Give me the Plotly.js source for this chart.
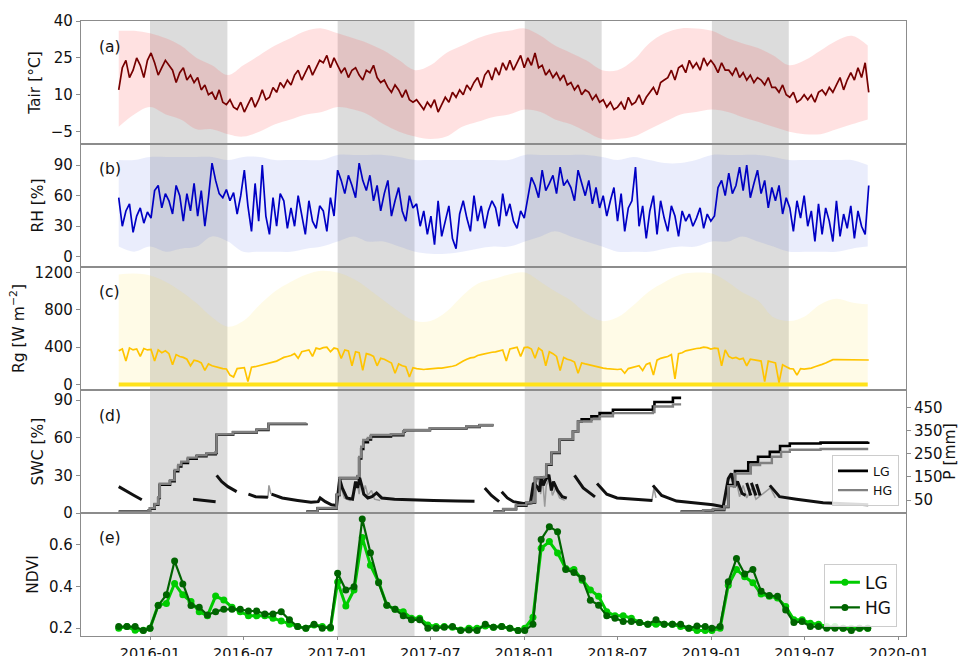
<!DOCTYPE html>
<html><head><meta charset="utf-8">
<script src="https://cdn.plot.ly/plotly-3.0.1.min.js"></script>
<style>html,body{margin:0;padding:0;background:#fff}#chart{width:959px;height:656px}</style>
</head><body><div id="chart"></div>
<script>
// ---------- DATA ----------
const weekStart = '2015-11-01';   // weekly series, 7-day step
const tairWeekly = [
 12,21,24,17,20, 25,22,17,24,
 27,23,18,21,24, 22,20,15,19, 21,16,18,15, 17,12,14,10, 11,8,12,7,6, 8,5,4,7,
 3,6,9,5,8, 12,8,9,13, 11,15,13,16, 14,18,20,16,19, 22,18,21,24, 23,26,21,25,
 22,19,21,17,20, 21,18,16,20, 19,22,17,15, 16,13,11,14,12, 9,12,8,7, 8,6,4,7,
 5,8,3,6,9, 7,11,9,12, 10,14,12,15, 17,13,18,20,16, 21,18,23,20, 24,20,23,26,21,
 25,22,27,21, 22,18,20,17, 19,16,18,14, 15,12,14,10,12, 11,8,10,7, 8,5,7,4,
 5,7,4,9,6, 7,10,6,9, 11,13,10,15,16, 17,20,16,21, 22,19,24,21, 23,20,25,22,24,
 22,19,23,20, 20,18,21,17, 19,16,18,15,17, 16,14,17,13, 13,11,14,10, 9,11,7,8,10,
 8,10,7,11, 12,10,13,11, 14,17,12,16,19, 16,21,17,23, 11];
const rhWeekly = [
 58,30,45,52,24, 40,48,33,44,
 38,65,70,48,62, 55,42,70,60, 35,62,45,72, 40,65,30,58, 92,75,62,58,66, 55,63,42,60,
 85,50,25,72,35, 90,40,22,58, 30,62,55,28, 48,30,60,42,22, 55,35,28,50, 45,25,58,40,
 85,75,62,80,70, 58,92,75,65, 80,55,70,45, 62,75,40,55,68, 45,35,60,48, 52,30,45,22,
 40,12,55,20,35, 50,18,8,42, 55,38,25,60, 35,50,28,45,55, 48,30,62,40, 52,35,28,45,38,
 60,78,70,58, 85,65,72,80, 62,88,70,75, 68,55,85,72,60, 75,52,68,48, 60,40,55,68,
 35,62,25,48,55, 88,30,50,18, 45,60,22,55,38, 25,50,40,20, 45,35,42,30, 38,48,28,42,35,
 40,68,75,60, 82,62,70,88, 65,90,58,72,85, 62,75,48,68, 55,70,42,58, 48,25,55,38,60,
 30,45,15,52, 22,48,35,15, 55,20,42,28,50, 18,45,30,22, 70];
const rgWeekly = [
 360,380,250,390,370, 380,300,385,370,
 375,250,370,340,360, 330,210,320,300, 290,270,200,260, 250,230,150,220, 200,190,175,170,165, 100,80,170,175,
 180,30,185,190,200, 205,215,230,240, 250,270,290,300, 310,330,280,350,360, 370,300,390,380, 395,400,350,390,
 380,280,370,360,200, 350,340,150,330, 320,300,200,280, 270,250,230,120,220, 200,190,80,180, 170,165,160,165,
 170,170,175,175,180, 185,195,205,230, 250,270,285,290, 310,320,330,340,345, 350,360,370,250, 380,390,400,300,395,
 400,380,280,390, 360,200,350,330, 300,150,290,270, 260,240,120,230,220, 210,200,190,180, 175,170,165,160,
 160,165,120,170,180, 190,200,150,215, 230,100,260,280,290, 300,320,60,330, 340,360,370,380, 385,390,400,395,380,
 390,385,200,370, 300,280,290,270, 280,200,270,265,260, 250,30,250,240, 230,20,210,190, 170,165,100,170,165,
 170,175,190,200, 215,230,250,265, 265,265,262,262,262, 262,262,262,262, 262];
const rgNightDates = ['2015-11-01','2019-11-01'];
const rgNight = [0, 0];

const monthStart = '2015-11-01';  // monthly envelopes of the hourly records
const tairMax = [36,36, 35,33,30,25,22,18,22,26,30,33,36,37, 35,33,31,28,24,20,22,27,30,33,35,36,
 37,34,30,27,24,20,20,24,31,35,37,37, 36,33,31,29,26,22,24,28,32,34,30];
const tairMin = [-3,2, 5,2,0,-4,-4,-6,-7,-5,-2,0,2,3, 5,4,2,-2,-5,-7,-8,-7,-3,-1,1,2,
 4,3,0,-2,-5,-8,-8,-7,-4,-1,2,3, 4,3,1,-1,-3,-5,-6,-6,-4,-2,0];
const rhMax = [95,95, 98,98,98,98,98,95,98,98,95,95,95,95, 100,100,100,100,98,95,95,95,95,95,95,95,
 100,100,100,100,100,98,95,98,95,92,92,95, 100,100,100,100,98,95,95,95,95,95,90];
const rhMin = [10,5, 10,5,8,10,20,15,5,5,5,5,8,10, 15,20,15,15,10,5,3,3,5,8,10,10,
 15,20,25,20,15,10,5,5,5,8,10,10, 15,15,20,15,10,5,5,5,5,8,10];
const rgMax = [1180,1190, 1170,1100,1000,870,720,620,680,850,1000,1100,1180,1220,
 1200,1130,1030,900,780,680,680,780,950,1080,1130,1180,
 1200,1100,1000,900,760,680,720,850,1000,1100,1180,1200,
 1190,1100,990,900,720,680,730,860,920,880,860];

// Soil water content (%), gaps as null
const swcLGDates = ['2015-11-01','2015-11-15','2015-12-01','2015-12-16',null,
 '2016-03-25','2016-04-15','2016-05-08',null,
 '2016-05-10','2016-05-20','2016-06-01','2016-06-18',null,
 '2016-07-11','2016-07-25','2016-08-18',null,
 '2016-08-25','2016-09-15','2016-10-15','2016-11-10','2016-11-24','2016-11-28','2016-12-08','2016-12-20','2016-12-30',
 '2017-01-02','2017-01-05','2017-01-10','2017-01-19','2017-01-30','2017-02-05','2017-02-09','2017-02-13','2017-02-17','2017-02-21',
 '2017-03-01','2017-03-09','2017-03-18','2017-03-28','2017-04-22','2017-05-20','2017-07-07','2017-08-22','2017-09-25',null,
 '2017-10-15','2017-10-28','2017-11-12',null,
 '2017-11-17','2017-11-28','2017-12-10','2017-12-29','2018-01-12',
 '2018-01-18','2018-01-25','2018-01-30','2018-02-02','2018-02-06','2018-02-10','2018-02-17','2018-02-22','2018-02-26','2018-03-06','2018-03-15','2018-03-24',null,
 '2018-04-08','2018-04-25','2018-05-18',null,
 '2018-05-22','2018-06-10','2018-06-30','2018-09-07',null,
 '2018-09-08','2018-09-25','2018-10-24','2019-01-03','2019-01-23',
 '2019-01-30','2019-02-02','2019-02-08','2019-02-14','2019-02-20','2019-03-01','2019-03-08',null,
 '2019-03-10','2019-03-18',null,'2019-03-19','2019-03-28',null,'2019-03-29','2019-04-05',null,
 '2019-04-24','2019-05-13','2019-06-15','2019-08-06','2019-11-02'];
const swcLG = [21,18,14,10.5,null,
 11,10,9,null,
 30,25,21,17,null,
 15,13,12.5,null,
 15,12,10,8.5,9,12,9,6.5,6,
 18,27,20,12,11,25,20,28,22,15,
 12,13,16,12,11,10.5,10,9.6,9.3,null,
 20,14,9,null,
 17,12,9,7.5,8,
 24,21,17,29,22,26,30.5,18,25,18,13,11.8,null,
 30,20,12.8,null,
 23.5,15,12,10,null,
 22,14,9.5,6.5,5,
 20,27.5,31.5,21,25,15.5,14,null,
 24,14,null,24,14,null,23,14,null,
 22,13,11,8.2,6.5];
const swcHGDates = ['2016-08-18','2016-08-20','2016-08-24',null,
 '2016-12-30','2017-01-04','2017-01-08','2017-01-14','2017-01-25','2017-02-03','2017-02-08','2017-02-12','2017-02-15','2017-02-20','2017-02-24','2017-03-01','2017-03-08','2017-03-14','2017-03-25',null,
 '2018-01-15','2018-01-20','2018-01-27','2018-02-01','2018-02-05','2018-02-09','2018-02-12','2018-02-18','2018-02-24','2018-03-02','2018-03-10','2018-03-20',null,
 '2018-09-06','2018-09-10','2018-09-14',null,
 '2019-01-28','2019-02-02','2019-02-06','2019-02-12','2019-02-18','2019-02-24','2019-03-03','2019-03-10','2019-03-20','2019-03-28','2019-04-25','2019-05-05'];
const swcHG = [12,22,15,null,
 8,26,20,12,10,18,24,15,25,16,22,14,18,11,10,null,
 8,20,28,15,26,5,22,28,14,20,12,10,null,
 10,20,12,null,
 10,26,30,20,25,13,22,12,20,11,20,12];

// Cumulative precipitation (mm), per hydrological season
const pLGDates = ['2015-11-01','2015-12-29','2016-01-01','2016-01-10','2016-01-17','2016-01-20','2016-02-09','2016-02-18','2016-02-25','2016-03-02','2016-03-15','2016-04-01','2016-04-20','2016-05-08','2016-05-10','2016-06-11','2016-07-27','2016-08-19','2016-11-01',null,
 '2016-11-01','2016-11-23','2016-12-30','2017-01-05','2017-02-09','2017-02-12','2017-02-16','2017-02-20','2017-03-01','2017-03-07','2017-04-15','2017-05-09','2017-05-12','2017-06-30','2017-09-09','2017-10-05','2017-11-01',null,
 '2017-11-01','2017-11-20','2017-12-15','2018-01-04','2018-01-14','2018-01-21','2018-02-08','2018-02-12','2018-02-22','2018-03-10','2018-04-05','2018-04-15','2018-04-22','2018-05-11','2018-05-27','2018-06-22','2018-09-08','2018-09-11','2018-10-17','2018-11-02',null,
 '2018-11-01','2018-12-15','2019-01-03','2019-01-25','2019-02-02','2019-02-15','2019-03-13','2019-04-01','2019-04-24','2019-05-14','2019-06-02','2019-08-01','2019-11-02'];
const pLG = [0,3,13,30,59,116,131,174,195,210,228,239,248,253,332,342,353,378,380,null,
 0,14,72,144,151,230,270,300,312,325,330,345,351,359,366,373,373,null,
 0,10,25,37,40,145,148,202,253,310,346,389,398,411,425,440,454,473,491,491,null,
 0,3,7,20,115,175,213,237,258,283,294,298,302];
const pHGDates = ['2015-11-01','2015-12-29','2016-01-01','2016-01-10','2016-01-17','2016-01-20','2016-02-09','2016-02-18','2016-02-25','2016-03-02','2016-03-15','2016-04-01','2016-04-20','2016-05-08','2016-05-10','2016-06-11','2016-07-27','2016-08-19','2016-11-01',null,
 '2016-11-01','2016-11-23','2016-12-30','2017-01-05','2017-02-09','2017-02-12','2017-02-16','2017-02-20','2017-03-01','2017-03-07','2017-04-15','2017-05-09','2017-05-12','2017-06-30','2017-09-09','2017-10-05','2017-11-01',null,
 '2017-11-01','2017-11-20','2017-12-15','2018-01-04','2018-01-14','2018-01-21','2018-02-08','2018-02-12','2018-02-22','2018-03-10','2018-04-05','2018-04-15','2018-05-03','2018-05-11','2018-05-27','2018-06-22','2018-09-08','2018-09-11','2018-10-17','2018-11-02',null,
 '2018-11-01','2018-12-15','2019-01-03','2019-01-25','2019-02-02','2019-02-15','2019-03-18','2019-04-05','2019-04-28','2019-05-16','2019-06-02','2019-08-01','2019-11-02'];
const pHG = [0,4,15,33,62,120,136,180,201,216,233,243,252,256,334,344,355,380,381,null,
 0,16,74,146,154,236,280,309,318,331,334,347,352,360,367,374,374,null,
 0,12,28,39,42,147,150,205,256,312,346,389,389,400,411,425,430,454,463,463,null,
 0,5,10,22,110,164,201,210,237,258,267,270,270];

// NDVI, MODIS 16-day composites (Nov 2015 .. Nov 2019)
const ndviLG = [0.20,0.208,0.19,0.19,
 0.20,0.31,0.318,0.413,0.359,0.327,0.279,0.259,0.353,0.334,0.30,0.279,0.259,0.259,0.259,0.248,0.235,0.219,0.208,0.20,0.216,0.208,0.20,
 0.42,0.306,0.382,0.632,0.50,0.42,0.31,0.29,0.279,0.248,0.248,0.216,0.208,0.208,0.205,0.192,0.20,0.20,0.211,0.205,0.208,0.20,0.189,
 0.20,0.252,0.581,0.613,0.559,0.484,0.48,0.429,0.382,0.352,0.279,0.259,0.259,0.248,0.227,0.219,0.219,0.219,0.219,0.208,0.20,0.189,0.189,
 0.189,0.20,0.405,0.48,0.445,0.417,0.363,0.352,0.344,0.303,0.24,0.24,0.224,0.219,0.208,0.208,0.20,0.20,0.20,0.20];
const ndviHG = [0.208,0.208,0.208,0.189,
 0.20,0.308,0.359,0.52,0.411,0.308,0.30,0.263,0.279,0.29,0.29,0.29,0.282,0.282,0.268,0.268,0.279,0.24,0.208,0.20,0.219,0.20,0.205,
 0.462,0.382,0.398,0.72,0.56,0.417,0.31,0.29,0.259,0.24,0.24,0.20,0.20,0.205,0.208,0.189,0.192,0.189,0.219,0.205,0.208,0.20,0.189,
 0.189,0.219,0.623,0.684,0.66,0.48,0.465,0.438,0.333,0.31,0.259,0.248,0.232,0.232,0.227,0.219,0.24,0.219,0.219,0.219,0.20,0.211,0.208,
 0.20,0.208,0.421,0.532,0.458,0.48,0.376,0.356,0.352,0.287,0.227,0.232,0.208,0.208,0.20,0.20,0.20,0.189,0.20,0.20];
const ndviYears = [2015,2016,2017,2018,2019];
const ndviFirstDoy = [305,1,1,1,1];
const ndviLastDoy = [353,353,353,353,305];

// dry-season shading
const shadeStart = ['2016-01-01','2017-01-01','2018-01-01','2019-01-01'];
const shadeEnd   = ['2016-05-31','2017-05-31','2018-05-31','2019-05-31'];

// ---------- helpers ----------
function addDays(s, n){const d=new Date(s+'T00:00:00Z');d.setUTCDate(d.getUTCDate()+n);return d.toISOString().slice(0,10);}
function addMonths(s, n){const d=new Date(s+'T00:00:00Z');d.setUTCMonth(d.getUTCMonth()+n);return d.toISOString().slice(0,10);}
const weekDates = tairWeekly.map((_,i)=>addDays(weekStart,7*i));
const monthDates = tairMax.map((_,i)=>addMonths(monthStart,i));
const ndviDates = [];
ndviYears.forEach((y,k)=>{for(let doy=ndviFirstDoy[k]; doy<=ndviLastDoy[k]; doy+=16){const d=new Date(Date.UTC(y,0,1));d.setUTCDate(doy);ndviDates.push(d.toISOString().slice(0,10));}});

const FONT = 'DejaVu Sans, Liberation Sans, Arial, sans-serif';
const AX = '#8c8c8c';
const XR = ['2015-08-19 10:00','2020-01-14 16:00'];

const traces = [
 // (a) Tair
 {x:monthDates,y:tairMax,xaxis:'x',yaxis:'y',mode:'lines',line:{width:0,shape:'spline'},showlegend:false},
 {x:monthDates,y:tairMin,xaxis:'x',yaxis:'y',mode:'lines',line:{width:0,shape:'spline'},fill:'tonexty',fillcolor:'rgba(255,70,70,0.16)',showlegend:false},
 {x:weekDates,y:tairWeekly,xaxis:'x',yaxis:'y',mode:'lines',line:{color:'#760000',width:1.7},showlegend:false},
 // (b) RH
 {x:monthDates,y:rhMax,xaxis:'x2',yaxis:'y2',mode:'lines',line:{width:0,shape:'spline'},showlegend:false},
 {x:monthDates,y:rhMin,xaxis:'x2',yaxis:'y2',mode:'lines',line:{width:0,shape:'spline'},fill:'tonexty',fillcolor:'rgba(80,110,230,0.12)',showlegend:false},
 {x:weekDates,y:rhWeekly,xaxis:'x2',yaxis:'y2',mode:'lines',line:{color:'#0000c4',width:1.7},showlegend:false},
 // (c) Rg
 {x:rgNightDates,y:rgNight,xaxis:'x3',yaxis:'y3',mode:'lines',line:{width:0},showlegend:false},
 {x:monthDates,y:rgMax,xaxis:'x3',yaxis:'y3',mode:'lines',line:{width:0,shape:'spline'},fill:'tonexty',fillcolor:'rgba(255,222,60,0.12)',showlegend:false},
 {x:rgNightDates,y:rgNight,xaxis:'x3',yaxis:'y3',mode:'lines',line:{color:'#ffe21a',width:4},showlegend:false},
 {x:weekDates,y:rgWeekly,xaxis:'x3',yaxis:'y3',mode:'lines',line:{color:'#ffc400',width:1.7},showlegend:false},
 // (d) SWC + cumulative P
 {x:swcHGDates,y:swcHG,xaxis:'x4',yaxis:'y4',mode:'lines',line:{color:'#9a9a9a',width:1.5},showlegend:false},
 {x:swcLGDates,y:swcLG,xaxis:'x4',yaxis:'y4',mode:'lines',line:{color:'#111',width:3},showlegend:false},
 {x:pLGDates,y:pLG,xaxis:'x4',yaxis:'y6',mode:'lines',name:'LG',line:{color:'#000',width:2.6,shape:'hv'},legend:'legend'},
 {x:pHGDates,y:pHG,xaxis:'x4',yaxis:'y6',mode:'lines',name:'HG',line:{color:'#808080',width:2.4,shape:'hv'},legend:'legend'},
 // (e) NDVI
 {x:ndviDates,y:ndviLG,xaxis:'x5',yaxis:'y5',mode:'lines+markers',name:'LG',line:{color:'#00cc00',width:3},marker:{color:'#00cc00',size:7},legend:'legend2'},
 {x:ndviDates,y:ndviHG,xaxis:'x5',yaxis:'y5',mode:'lines+markers',name:'HG',line:{color:'#006400',width:2.2},marker:{color:'#006400',size:7},legend:'legend2'}
];

function xax(anchor, show){
 return {range:XR,type:'date',anchor:anchor,showgrid:false,zeroline:false,showline:true,mirror:true,linecolor:AX,linewidth:1.2,
  ticks:show?'outside':'',ticklen:3,tickcolor:AX,showticklabels:show,tickformat:'%Y-%m',dtick:'M6',tick0:'2016-01-01',
  tickfont:{family:FONT,size:14.5,color:'#111'}};
}
function yax(dom, range, tv, title, anchor){
 return {domain:dom,range:range,anchor:anchor,tickvals:tv,showgrid:false,zeroline:false,showline:true,mirror:true,linecolor:AX,linewidth:1.2,
  ticks:'outside',ticklen:4,tickcolor:AX,tickfont:{family:FONT,size:15,color:'#111'},
  title:{text:title,font:{family:FONT,size:15.5,color:'#111'},standoff:6}};
}
const shapes = shadeStart.map((s,i)=>({type:'rect',xref:'x',yref:'paper',x0:s,x1:shadeEnd[i],y0:0,y1:1,fillcolor:'#dcdcdc',line:{width:0},layer:'below'}));
const labels = ['(a)','(b)','(c)','(d)','(e)'];
const labelY = [0.958,0.759,0.559,0.358,0.159];
const annotations = labels.map((t,i)=>({text:t,xref:'paper',yref:'paper',x:0.019,y:labelY[i],xanchor:'left',yanchor:'middle',showarrow:false,font:{family:FONT,size:15.5,color:'#111'}}));
// right-axis title of panel (d)
annotations.push({text:'P [mm]',xref:'paper',yref:'paper',x:1.0525,y:0.3,xanchor:'center',yanchor:'middle',textangle:-90,showarrow:false,font:{family:FONT,size:15.5,color:'#111'}});

const layout = {
 width:959,height:656,margin:{l:81,r:53,t:21,b:20},paper_bgcolor:'#fff',plot_bgcolor:'rgba(0,0,0,0)',
 font:{family:FONT,color:'#111'},
 xaxis:xax('y',false),xaxis2:xax('y2',false),xaxis3:xax('y3',false),xaxis4:xax('y4',false),xaxis5:xax('y5',true),
 yaxis:yax([0.8,1],[-10,40],[-5,10,25,40],'Tair [°C]','x'),
 yaxis2:yax([0.6,0.8],[-10,110.7],[0,30,60,90],'RH [%]','x2'),
 yaxis3:yax([0.4,0.6],[-60,1260],[0,400,800,1200],'Rg [W m<sup>−2</sup>]','x3'),
 yaxis4:yax([0.2,0.4],[0,98],[0,30,60,90],'SWC [%]','x4'),
 yaxis5:yax([0,0.2],[0.163,0.749],[0.2,0.4,0.6],'NDVI','x5'),
 yaxis6:{overlaying:'y4',side:'right',anchor:'x4',range:[-6,525],tickvals:[50,150,250,350,450],showgrid:false,zeroline:false,showline:false,
  ticks:'outside',ticklen:4,tickcolor:AX,tickfont:{family:FONT,size:15,color:'#111'}},
 legend:{x:0.9915,y:0.211,xanchor:'right',yanchor:'bottom',traceorder:'normal',bgcolor:'rgba(255,255,255,0.85)',bordercolor:'#cccccc',borderwidth:1,font:{family:FONT,size:12.5,color:'#111'},tracegroupgap:0},
 legend2:{x:0.989,y:0.015,xanchor:'right',yanchor:'bottom',traceorder:'normal',bgcolor:'rgba(255,255,255,0.85)',bordercolor:'#cccccc',borderwidth:1,font:{family:FONT,size:17,color:'#111'},tracegroupgap:0},
 shapes:shapes,annotations:annotations,showlegend:true
};
Plotly.newPlot('chart',traces,layout,{staticPlot:true,displayModeBar:false});
</script></body></html>
